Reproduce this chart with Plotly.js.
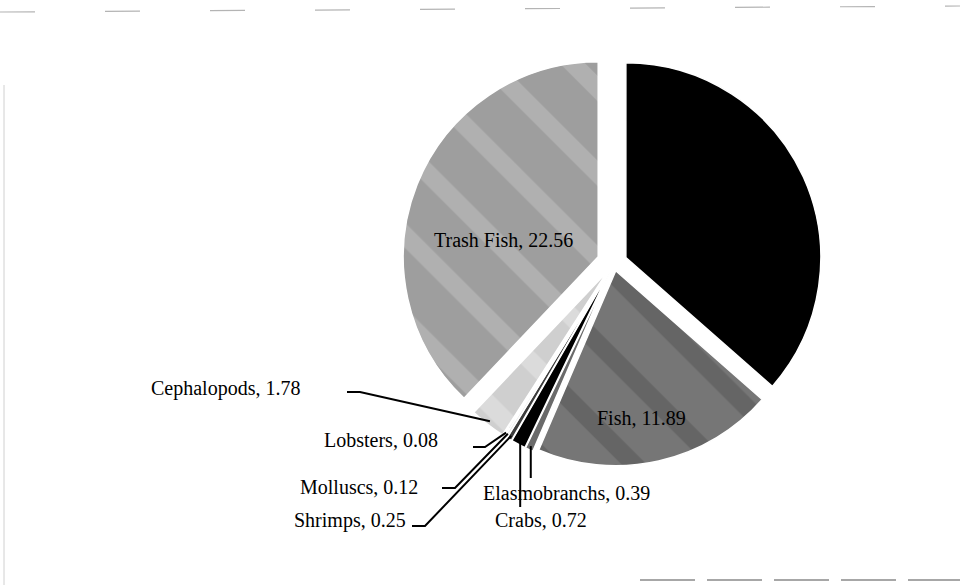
<!DOCTYPE html>
<html>
<head>
<meta charset="utf-8">
<script src="https://cdn.plot.ly/plotly-3.0.1.min.js"></script>
<style>
  html, body { margin: 0; padding: 0; background: #ffffff; }
  #chart { width: 960px; height: 585px; }
</style>
</head>
<body>
<div id="chart"></div>
<script>
// Catch composition by group (slice order, clockwise from 12 o'clock)
const categories = ["Others", "Fish", "Elasmobranchs", "Crabs", "Shrimps", "Molluscs", "Lobsters", "Cephalopods", "Trash Fish"];
const values     = [21.70, 11.89, 0.39, 0.72, 0.25, 0.12, 0.08, 1.78, 22.56];
const sliceColors = ["#000000", "#767676", "#6a6a6a", "#000000", "#3c3c3c", "#e8e8e8", "#a8a8a8", "#cfcfcf", "#9e9e9e"];
const bandColors  = ["#000000", "#5a5a5a", "#6a6a6a", "#000000", "#3c3c3c", "#e8e8e8", "#a8a8a8", "#e2e2e2", "#bcbcbc"];
const bandShapes  = ["", "\\", "", "", "", "", "", "\\", "\\"];
const slicePull   = [0.0667, 0.041, 0.0513, 0.0513, 0.0513, 0.0513, 0.0513, 0.0513, 0.0872];
const showLabel   = [false, true, true, true, true, true, true, true, true];

const W = 960, H = 585;
const domX = [0.41875, 0.86042];
const domY = [0.18803, 0.91282];

// pie geometry, same rule Plotly uses: radius shrinks to leave room for the largest pull
const maxPull = Math.max(...slicePull);
const cx = W * (domX[0] + domX[1]) / 2;
const cy = H * (1 - (domY[0] + domY[1]) / 2);
const R = Math.min(W * (domX[1] - domX[0]), H * (domY[1] - domY[0])) / 2 / (1 + maxPull);
const total = values.reduce((a, b) => a + b, 0);

function midAngle(i) {
  let before = 0;
  for (let k = 0; k < i; k++) before += values[k];
  return 2 * Math.PI * (before + values[i] / 2) / total;
}
// point on exploded slice i at radius frac*R from its own apex
function slicePoint(i, frac) {
  const a = midAngle(i);
  const d = (slicePull[i] + frac) * R;
  return [cx + d * Math.sin(a), cy - d * Math.cos(a)];
}
const px = (x) => x / W;
const py = (y) => 1 - y / H;
const fmt = (i) => categories[i] + ", " + values[i].toFixed(2);
const idx = (name) => categories.indexOf(name);

// label placement: [x, y, xanchor] in pixels
const labelPos = {
  "Trash Fish":    [503, 240, "center"],
  "Fish":          [641, 418, "center"],
  "Cephalopods":   [302, 388, "right"],
  "Lobsters":      [440, 440, "right"],
  "Molluscs":      [420, 487, "right"],
  "Shrimps":       [408, 520, "right"],
  "Elasmobranchs": [566, 493, "center"],
  "Crabs":         [541, 520, "center"]
};
// leader lines with an elbow: start and bend point in pixels
const elbowLeaders = {
  "Cephalopods": [[347, 392], [360, 392]],
  "Lobsters":    [[473, 447], [485, 447]],
  "Molluscs":    [[442, 488], [455, 488]],
  "Shrimps":     [[412, 526], [425, 526]]
};
// straight vertical leaders: bottom y in pixels
const dropLeaders = { "Elasmobranchs": 478, "Crabs": 507 };

const font = { family: "Liberation Serif, Times New Roman, serif", size: 20, color: "#000000" };

const annotations = [];
categories.forEach((c, i) => {
  if (!showLabel[i] || !labelPos[c]) return;
  const [x, y, anchor] = labelPos[c];
  annotations.push({
    xref: "paper", yref: "paper", x: px(x), y: py(y),
    xanchor: anchor, yanchor: "middle", showarrow: false,
    text: fmt(i), font: font
  });
});

const shapes = [];
Object.keys(elbowLeaders).forEach((c) => {
  const [p0, p1] = elbowLeaders[c];
  const p2 = slicePoint(idx(c), 0.98);
  shapes.push({
    type: "path", xref: "paper", yref: "paper",
    path: `M ${px(p0[0])} ${py(p0[1])} L ${px(p1[0])} ${py(p1[1])} L ${px(p2[0])} ${py(p2[1])}`,
    line: { color: "#000000", width: 2 }
  });
});
Object.keys(dropLeaders).forEach((c) => {
  const p = slicePoint(idx(c), 0.98);
  shapes.push({
    type: "line", xref: "paper", yref: "paper",
    x0: px(p[0]), y0: py(p[1]), x1: px(p[0]), y1: py(dropLeaders[c]),
    line: { color: "#000000", width: 2 }
  });
});
// faint outer frame of the chart area
shapes.push({ type: "line", xref: "paper", yref: "paper", x0: 0, y0: py(12), x1: 1, y1: py(6),
  line: { color: "#b4b4b4", width: 1.2, dash: "35px,70px" } });
shapes.push({ type: "line", xref: "paper", yref: "paper", x0: px(4), y0: py(85), x1: px(4), y1: 0,
  line: { color: "#d0d0d0", width: 1 } });
shapes.push({ type: "line", xref: "paper", yref: "paper", x0: px(640), y0: py(580), x1: 1, y1: py(580),
  line: { color: "#8a8a8a", width: 1.5, dash: "55px,12px" } });

const trace = {
  type: "pie",
  labels: categories,
  values: values,
  sort: false,
  direction: "clockwise",
  rotation: 0,
  pull: slicePull,
  textinfo: "none",
  hoverinfo: "label+value",
  domain: { x: domX, y: domY },
  marker: {
    colors: sliceColors,
    line: { color: "#ffffff", width: 1.5 },
    pattern: {
      shape: bandShapes,
      size: 60,
      solidity: 0.3,
      bgcolor: sliceColors,
      fgcolor: bandColors,
      fgopacity: 0.6
    }
  },
  showlegend: false
};

const layout = {
  width: W, height: H,
  margin: { l: 0, r: 0, t: 0, b: 0 },
  paper_bgcolor: "#ffffff",
  plot_bgcolor: "#ffffff",
  showlegend: false,
  annotations: annotations,
  shapes: shapes
};

Plotly.newPlot("chart", [trace], layout, { displayModeBar: false, staticPlot: true });
</script>
</body>
</html>
